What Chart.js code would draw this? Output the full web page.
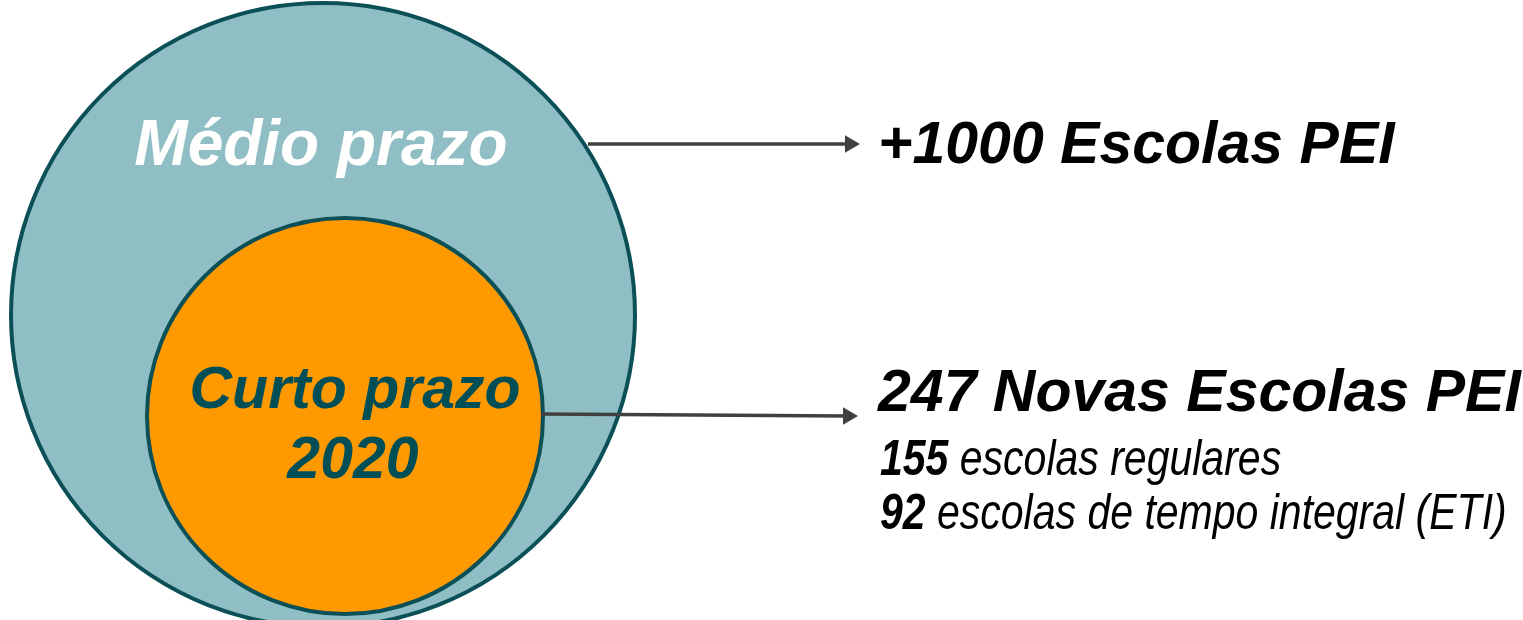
<!DOCTYPE html>
<html>
<head>
<meta charset="utf-8">
<script src="https://cdn.jsdelivr.net/npm/chart.js@4"></script>
<style>
html,body{margin:0;padding:0;background:#fff;}
#wrap{position:relative;width:1523px;height:620px;}
</style>
</head>
<body>
<div id="wrap"><canvas id="c"></canvas></div>
<script>
// Circles (diagram units)
const circleLabels = ['Médio prazo', 'Curto prazo\n2020'];
const circleX = [323, 345];
const circleY = [315, 416];
const circleR = [312, 198];
const circleFill = ['#8FBFC4', '#FF9900'];
const circleText = ['#FFFFFF', '#004F57'];

// Arrows: start / end points
const arrowStartX = [588, 541];
const arrowStartY = [144, 414];
const arrowEndX = [850, 848];
const arrowEndY = [144, 416];

// Right-side texts
const headlines = ['+1000 Escolas PEI', '247 Novas Escolas PEI'];
const headlineY = [163, 411];
const detailNumbers = ['155', '92'];
const detailTexts = [' escolas regulares', ' escolas de tempo integral (ETI)'];
const detailY = [475, 529];
const textX = 878;

const bubbleData = circleX.map((x, i) => ({x, y: circleY[i], r: circleR[i]}));

const arrowDatasets = arrowStartX.map((sx, i) => ({
  type: 'line',
  data: [{x: sx, y: arrowStartY[i]}, {x: arrowEndX[i], y: arrowEndY[i]}],
  borderColor: '#404040',
  backgroundColor: '#404040',
  borderWidth: 3.5,
  pointStyle: 'triangle',
  pointRadius: [0, 10],
  pointRotation: 90,
  pointBorderWidth: 0,
  clip: false,
  order: 0
}));

const NARROW = '"Liberation Sans Narrow", "Arial Narrow"';
const REG = '"Liberation Sans", Arial, sans-serif';

const textPlugin = {
  id: 'texts',
  afterDatasetsDraw(chart) {
    const {ctx, scales: {x, y}} = chart;
    ctx.save();
    ctx.textBaseline = 'alphabetic';
    // circle labels
    ctx.textAlign = 'center';
    ctx.fillStyle = circleText[0];
    ctx.font = 'italic bold 64px ' + REG;
    ctx.fillText(circleLabels[0], x.getPixelForValue(321), y.getPixelForValue(165));
    ctx.fillStyle = circleText[1];
    ctx.font = 'italic bold 59px ' + REG;
    const lines = circleLabels[1].split('\n');
    ctx.fillText(lines[0], x.getPixelForValue(355), y.getPixelForValue(408));
    ctx.fillText(lines[1], x.getPixelForValue(353), y.getPixelForValue(478));
    // headlines
    ctx.textAlign = 'left';
    ctx.fillStyle = '#000';
    ctx.font = 'italic bold 59px ' + REG;
    headlines.forEach((t, i) => ctx.fillText(t, x.getPixelForValue(textX), y.getPixelForValue(headlineY[i])));
    // details (condensed font; fall back to horizontal scaling if narrow font missing)
    ctx.font = 'italic 50px ' + NARROW + ', ' + REG;
    const wn = ctx.measureText(detailTexts[1]).width;
    ctx.font = 'italic 50px ' + REG;
    const wr = ctx.measureText(detailTexts[1]).width;
    const needScale = wn / wr > 0.95;
    detailNumbers.forEach((n, i) => {
      const px = x.getPixelForValue(textX + 2), py = y.getPixelForValue(detailY[i]);
      ctx.save();
      ctx.translate(px, py);
      if (needScale) ctx.scale(0.82, 1);
      ctx.font = 'italic bold 50px ' + NARROW + ', ' + REG;
      ctx.fillText(n, 0, 0);
      const w = ctx.measureText(n).width;
      ctx.font = 'italic 50px ' + NARROW + ', ' + REG;
      ctx.fillText(detailTexts[i], w, 0);
      ctx.restore();
    });
    ctx.restore();
  }
};

new Chart(document.getElementById('c'), {
  type: 'bubble',
  data: {
    datasets: [
      {
        data: bubbleData,
        backgroundColor: circleFill,
        borderColor: '#0B4F57',
        borderWidth: 4,
        hoverBorderWidth: 4,
        clip: false,
        order: 1
      },
      ...arrowDatasets
    ]
  },
  options: {
    responsive: true,
    maintainAspectRatio: false,
    animation: false,
    events: [],
    layout: {padding: 0, autoPadding: false},
    plugins: {legend: {display: false}, tooltip: {enabled: false}},
    scales: {
      x: {type: 'linear', min: 0, max: 1523, display: false},
      y: {type: 'linear', min: 0, max: 620, reverse: true, display: false}
    }
  },
  plugins: [textPlugin]
});
</script>
</body>
</html>
